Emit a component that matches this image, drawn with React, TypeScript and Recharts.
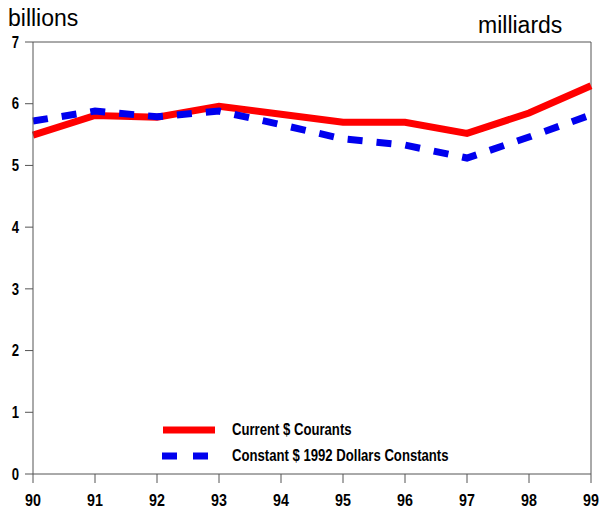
import React from 'react';
import { LineChart, Line, XAxis, YAxis, ReferenceLine } from 'recharts';

const years = [90, 91, 92, 93, 94, 95, 96, 97, 98, 99];
const currentDollars = [5.49, 5.81, 5.78, 5.96, 5.83, 5.70, 5.70, 5.52, 5.85, 6.29];
const constantDollars = [5.72, 5.88, 5.79, 5.88, 5.66, 5.43, 5.33, 5.12, 5.46, 5.82];
const yTicks = [0, 1, 2, 3, 4, 5, 6, 7];
const seriesNames = ['Current $ Courants', 'Constant $ 1992 Dollars Constants'];

const data = years.map((y, i) => ({ year: y, current: currentDollars[i], constant: constantDollars[i] }));

const FONT = '"Liberation Sans", Arial, sans-serif';
const AXIS = '#555';

const XTick = (props: any) => {
  const { x, y, payload } = props;
  return (
    <g transform={`translate(${x},${y})`}>
      <text transform="scale(0.84,1)" textAnchor="middle" dy="0.71em" fill="#000" fontFamily={FONT} fontWeight="bold" fontSize={17}>
        {payload.value}
      </text>
    </g>
  );
};

const YTick = (props: any) => {
  const { x, y, payload } = props;
  return (
    <g transform={`translate(${x},${y})`}>
      <text transform="scale(0.82,1)" textAnchor="end" dy="0.355em" fill="#000" fontFamily={FONT} fontWeight="bold" fontSize={16}>
        {payload.value}
      </text>
    </g>
  );
};

const legendText: React.CSSProperties = {
  fontFamily: FONT, fontWeight: 'bold', fontSize: 16, color: '#000', lineHeight: '18px',
  display: 'inline-block', transform: 'scaleX(0.82)', transformOrigin: 'left center', whiteSpace: 'nowrap',
};

export default function App() {
  return (
    <div style={{ position: 'absolute', left: 0, top: 0, width: 599, height: 512, background: '#fff' }}>
      <div style={{ position: 'absolute', left: 8, top: 5, fontFamily: FONT, fontSize: 23, color: '#000', lineHeight: '26px' }}>billions</div>
      <div style={{ position: 'absolute', left: 478, top: 12, fontFamily: FONT, fontSize: 23, color: '#000', lineHeight: '26px' }}>milliards</div>
      <LineChart width={599} height={512} data={data} margin={{ top: 42, right: 8, left: 0, bottom: 0 }}>
        <XAxis
          dataKey="year"
          type="number"
          domain={[90, 99]}
          ticks={years}
          interval={0}
          height={38}
          stroke={AXIS}
          tickSize={9}
          tickMargin={11}
          tick={<XTick />}
        />
        <YAxis
          type="number"
          domain={[0, 7]}
          ticks={yTicks}
          width={33}
          stroke={AXIS}
          tickSize={8}
          tickMargin={6}
          tick={<YTick />}
        />
        <ReferenceLine y={7} stroke={AXIS} strokeWidth={1} />
        <ReferenceLine x={99} stroke={AXIS} strokeWidth={1} />
        <Line dataKey="current" name={seriesNames[0]} stroke="#ff0000" strokeWidth={7} dot={false} isAnimationActive={false} />
        <Line dataKey="constant" name={seriesNames[1]} stroke="#0000ee" strokeWidth={7} strokeDasharray="15 14" dot={false} isAnimationActive={false} />
      </LineChart>
      <div style={{ position: 'absolute', left: 160, top: 417 }}>
        <div style={{ display: 'flex', alignItems: 'center', height: 26 }}>
          <svg width={72} height={10}>
            <line x1={3} y1={5} x2={55} y2={5} stroke="#ff0000" strokeWidth={7} />
          </svg>
          <span style={legendText}>{seriesNames[0]}</span>
        </div>
        <div style={{ display: 'flex', alignItems: 'center', height: 26 }}>
          <svg width={72} height={10}>
            <line x1={2} y1={5} x2={48} y2={5} stroke="#0000ee" strokeWidth={7} strokeDasharray="15 16" />
          </svg>
          <span style={legendText}>{seriesNames[1]}</span>
        </div>
      </div>
    </div>
  );
}
